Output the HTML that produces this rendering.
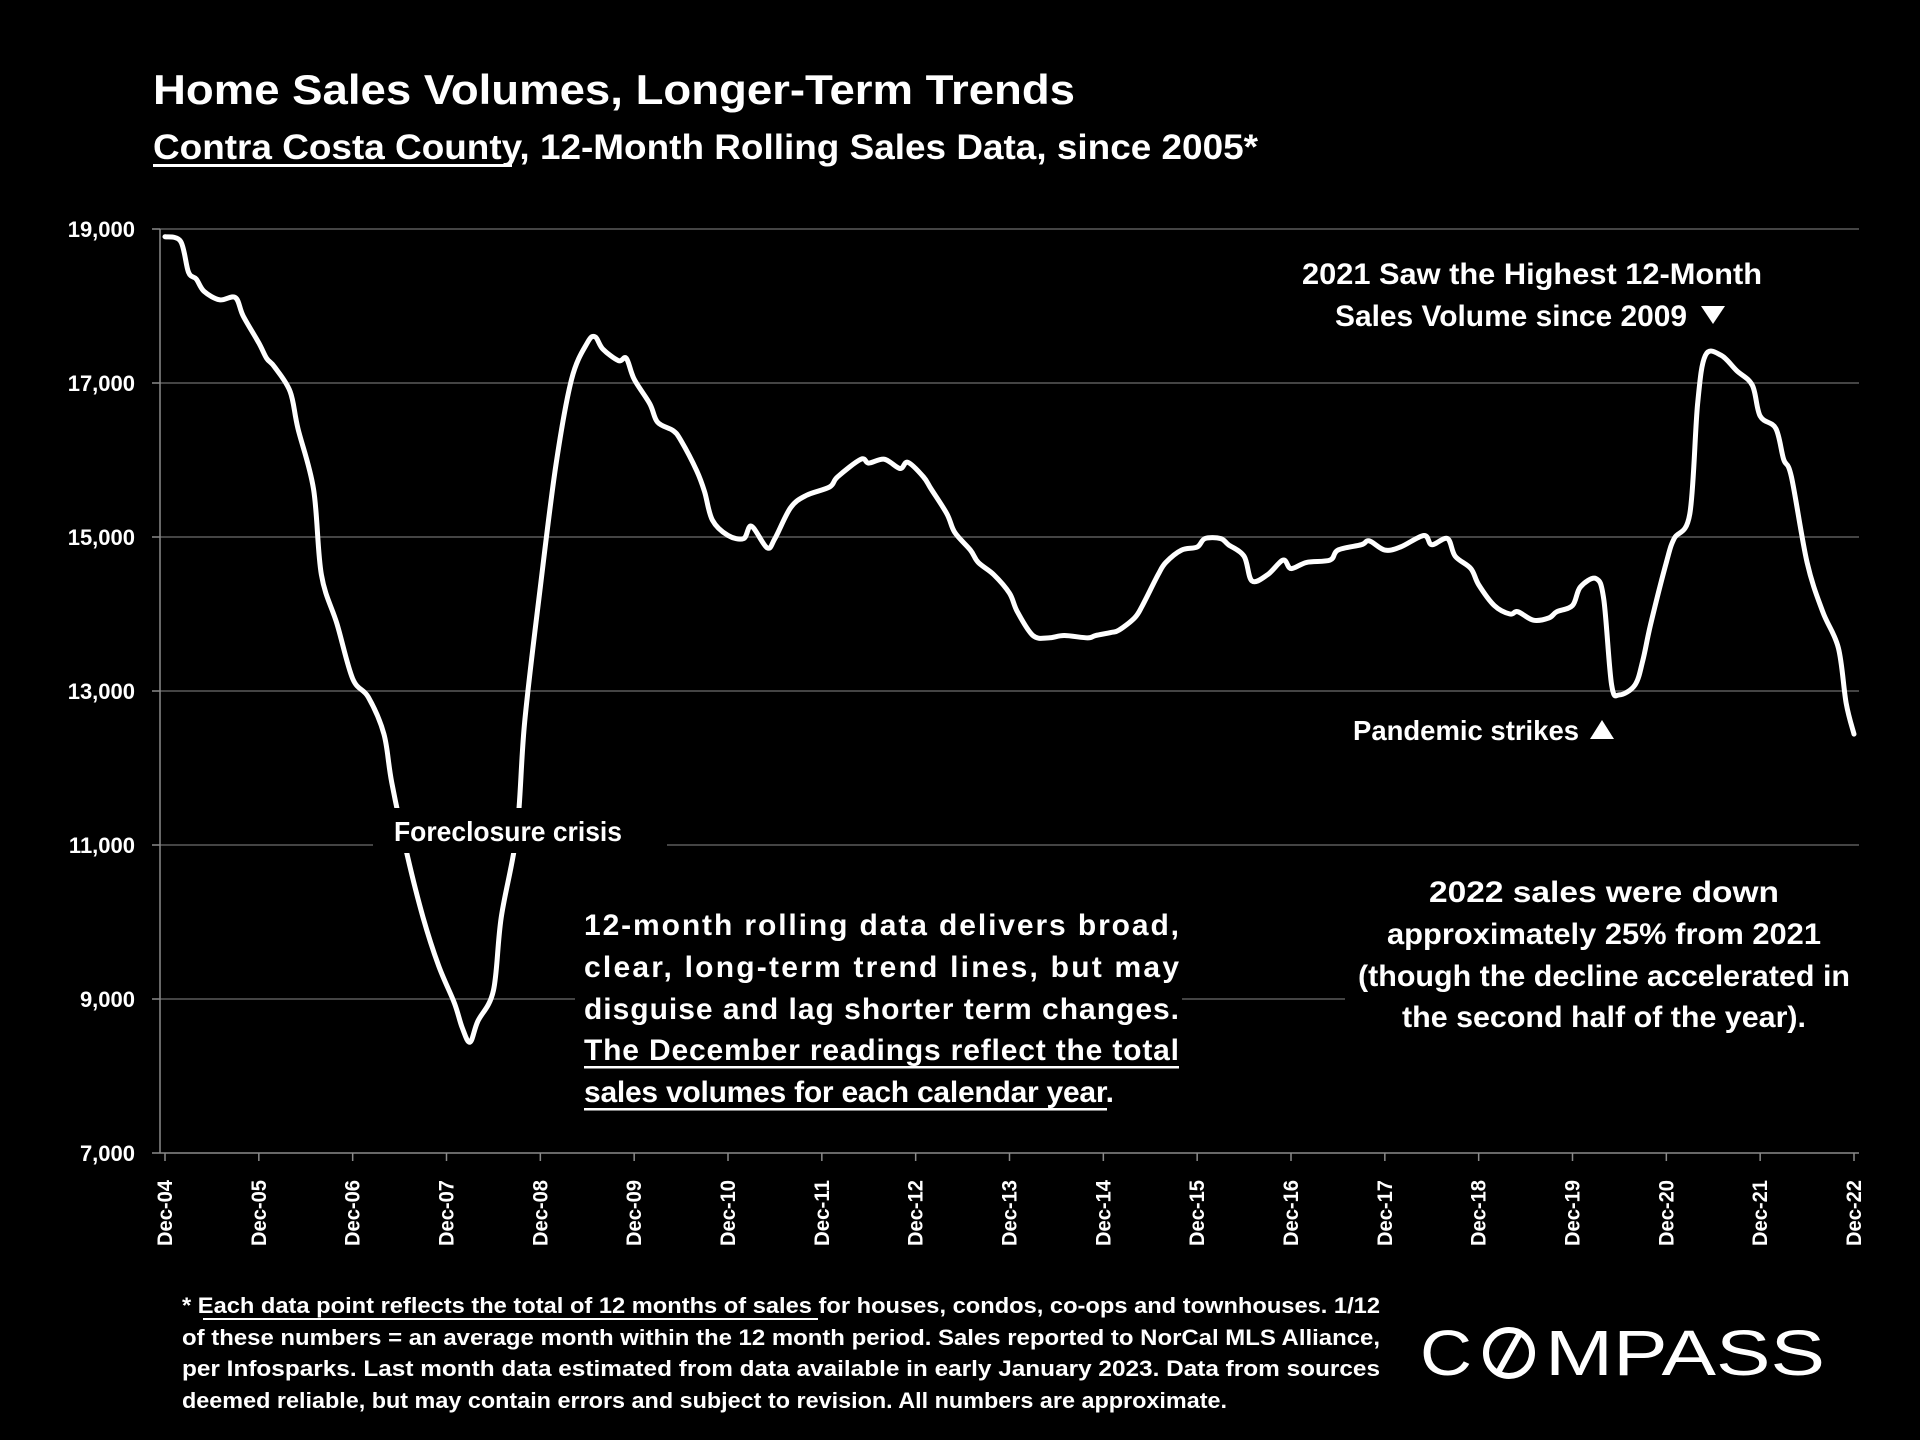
<!DOCTYPE html>
<html><head><meta charset="utf-8"><style>
html,body{margin:0;padding:0;background:#000;}
svg{display:block;}
text{font-family:"Liberation Sans",sans-serif;fill:#fff;}
</style></head><body>
<svg id="chart" width="1920" height="1440" viewBox="0 0 1920 1440">
<rect width="1920" height="1440" fill="#000"/>
<text x="153" y="104" font-size="42" font-weight="bold" textLength="922" lengthAdjust="spacingAndGlyphs">Home Sales Volumes, Longer-Term Trends</text>
<text x="153" y="159" font-size="35" font-weight="bold" textLength="1105" lengthAdjust="spacingAndGlyphs">Contra Costa County, 12-Month Rolling Sales Data, since 2005*</text>
<rect x="153" y="164" width="359" height="3" fill="#fff"/>
<g id="grid"></g>
<g id="yaxis"></g>
<g id="xaxis"></g>
<g id="series"></g>

<rect x="373" y="808" width="294" height="45" fill="#000"/>
<text x="394" y="841" font-size="28" font-weight="bold" textLength="228" lengthAdjust="spacingAndGlyphs">Foreclosure crisis</text>

<rect x="575" y="895" width="607" height="220" fill="#000"/>
<g font-size="30" font-weight="bold">
<text x="584" y="935" textLength="595" lengthAdjust="spacing">12-month rolling data delivers broad,</text>
<text x="584" y="977" textLength="595" lengthAdjust="spacing">clear, long-term trend lines, but may</text>
<text x="584" y="1019" textLength="595" lengthAdjust="spacing">disguise and lag shorter term changes.</text>
<text x="584" y="1060" textLength="595" lengthAdjust="spacing">The December readings reflect the total</text>
<text x="584" y="1102" textLength="530" lengthAdjust="spacing">sales volumes for each calendar year.</text>
<rect x="584" y="1066" width="595" height="2.5" fill="#fff"/>
<rect x="584" y="1108" width="523" height="2.5" fill="#fff"/>
</g>

<rect x="1345" y="862" width="514" height="180" fill="#000"/>
<g font-size="30" font-weight="bold" text-anchor="middle">
<text x="1604" y="902" textLength="350" lengthAdjust="spacingAndGlyphs">2022 sales were down</text>
<text x="1604" y="944" textLength="434" lengthAdjust="spacingAndGlyphs">approximately 25% from 2021</text>
<text x="1604" y="986" textLength="492" lengthAdjust="spacingAndGlyphs">(though the decline accelerated in</text>
<text x="1604" y="1027" textLength="404" lengthAdjust="spacingAndGlyphs">the second half of the year).</text>
</g>

<g font-size="30" font-weight="bold">
<text x="1302" y="284" textLength="460" lengthAdjust="spacingAndGlyphs">2021 Saw the Highest 12-Month</text>
<text x="1335" y="326" textLength="352" lengthAdjust="spacingAndGlyphs">Sales Volume since 2009</text>
<polygon points="1701,306 1725,306 1713,324" fill="#fff"/>
</g>
<g font-size="28" font-weight="bold">
<text x="1353" y="740" textLength="226" lengthAdjust="spacingAndGlyphs">Pandemic strikes</text>
<polygon points="1590,739 1614,739 1602,720" fill="#fff"/>
</g>

<g font-size="22" font-weight="bold">
<text x="182" y="1313" textLength="1198" lengthAdjust="spacingAndGlyphs">* Each data point reflects the total of 12 months of sales for houses, condos, co-ops and townhouses. 1/12</text>
<rect x="203" y="1318" width="615" height="2" fill="#fff"/>
<text x="182" y="1345" textLength="1198" lengthAdjust="spacingAndGlyphs">of these numbers = an average month within the 12 month period. Sales reported to NorCal MLS Alliance,</text>
<text x="182" y="1376" textLength="1198" lengthAdjust="spacingAndGlyphs">per Infosparks. Last month data estimated from data available in early January 2023. Data from sources</text>
<text x="182" y="1408" textLength="1045" lengthAdjust="spacingAndGlyphs">deemed reliable, but may contain errors and subject to revision. All numbers are approximate.</text>
</g>

<g>
<text x="1420" y="1375" font-size="64" textLength="52" lengthAdjust="spacingAndGlyphs">C</text>
<circle cx="1509" cy="1353" r="23" fill="none" stroke="#fff" stroke-width="6"/>
<line x1="1499" y1="1371" x2="1519" y2="1335" stroke="#fff" stroke-width="6"/>
<text x="1545" y="1375" font-size="64" textLength="280" lengthAdjust="spacingAndGlyphs">MPASS</text>
</g>
</svg>
<script>
const months = [0,2,3,4,5,7,9,10,12,13,14,16,17,19,20,22,24,26,28,29,31,33,35,37,38,39,40,42,43,45,46,48,50,52,54,55,56,58,59,60,62,63,65,66,68,69,70,72,74,75,77,78,80,82,85,86,89,90,92,94,95,97,98,100,101,103,104,106,108,109,111,113,115,118,119,121,122,124,125,127,128,130,132,133,135,136,138,139,141,143,144,146,149,150,153,154,156,158,161,162,164,165,167,168,170,172,173,175,177,178,180,181,183,184,185,186,188,189,190,192,193,195,196,197,199,201,203,204,206,207,208,210,212,214,215,216];
const sales = [18900,18840,18440,18350,18190,18080,18110,17870,17520,17320,17210,16890,16410,15620,14510,13870,13160,12920,12440,11810,10860,10060,9430,8950,8630,8440,8710,9110,10060,11170,12600,14350,15940,17050,17520,17600,17440,17290,17320,17050,16730,16490,16380,16250,15860,15590,15220,15020,14980,15140,14860,14980,15380,15540,15650,15780,16010,15960,16010,15890,15970,15780,15620,15300,15060,14830,14670,14510,14270,14030,13720,13690,13720,13690,13720,13760,13790,13950,14110,14510,14670,14830,14870,14980,14980,14900,14750,14430,14510,14700,14590,14670,14700,14830,14900,14950,14830,14870,15020,14900,14980,14750,14590,14380,14110,14000,14030,13920,13950,14030,14110,14350,14460,14190,13080,12950,13080,13400,13870,14670,14980,15300,16730,17360,17360,17160,16970,16570,16410,16010,15780,14670,14030,13560,12840,12440];
const yTicks = [7000,9000,11000,13000,15000,17000,19000];
const yTickLabels = ["7,000","9,000","11,000","13,000","15,000","17,000","19,000"];
const xTickMonths = [0,12,24,36,48,60,72,84,96,108,120,132,144,156,168,180,192,204,216];
const xTickLabels = ["Dec-04","Dec-05","Dec-06","Dec-07","Dec-08","Dec-09","Dec-10","Dec-11","Dec-12","Dec-13","Dec-14","Dec-15","Dec-16","Dec-17","Dec-18","Dec-19","Dec-20","Dec-21","Dec-22"];

const NS = "http://www.w3.org/2000/svg";
const X0 = 165, X1 = 1854, AX = 160, RIGHT = 1859, YTOP = 229, YBOT = 1153;
function xs(m){ return X0 + (X1 - X0) * m / 216; }
function ys(v){ return YBOT - (YBOT - YTOP) * (v - 7000) / 12000; }
function mk(tag, attrs, parent){ const e = document.createElementNS(NS, tag); for (const k in attrs) e.setAttribute(k, attrs[k]); parent.appendChild(e); return e; }

const grid = document.getElementById('grid');
const yaxis = document.getElementById('yaxis');
const xaxis = document.getElementById('xaxis');
const series = document.getElementById('series');

yTicks.forEach((v, i) => {
  const y = ys(v);
  if (i > 0) {
    const g = mk('line', {x1: AX, x2: RIGHT, y1: y, y2: y, stroke: '#5a5a5a', 'stroke-width': 1.5}, grid);
    
    
  }
  mk('line', {x1: AX - 8, x2: AX, y1: y, y2: y, stroke: '#8a8a8a', 'stroke-width': 1.5}, yaxis);
  const t = mk('text', {x: 135, y: y + 8, 'font-size': 22, 'font-weight': 'bold', 'text-anchor': 'end'}, yaxis);
  t.textContent = yTickLabels[i];
  
  
});
mk('line', {x1: AX, x2: AX, y1: YTOP, y2: YBOT, stroke: '#8a8a8a', 'stroke-width': 1.5}, yaxis);
mk('line', {x1: AX, x2: RIGHT, y1: YBOT, y2: YBOT, stroke: '#8a8a8a', 'stroke-width': 1.5}, xaxis);

xTickMonths.forEach((m, i) => {
  const x = xs(m);
  mk('line', {x1: x, x2: x, y1: YBOT, y2: YBOT + 8, stroke: '#8a8a8a', 'stroke-width': 1.5}, xaxis);
  const t = mk('text', {x: 0, y: 0, 'font-size': 21, 'font-weight': 'bold', 'text-anchor': 'end', transform: `translate(${x + 7},1180) rotate(-90)`, textLength: 66, lengthAdjust: 'spacingAndGlyphs'}, xaxis);
  t.textContent = xTickLabels[i];
  
  
});

const pts = months.map((m, i) => [xs(m), ys(sales[i])]);
let d = 'M' + pts[0][0] + ',' + pts[0][1];
for (let i = 1; i < pts.length; i++) {
  const p0 = pts[Math.max(0, i - 2)], p1 = pts[i - 1], p2 = pts[i], p3 = pts[Math.min(pts.length - 1, i + 1)];
  const c1x = p1[0] + (p2[0] - p0[0]) / 6, c1y = p1[1] + (p2[1] - p0[1]) / 6;
  const c2x = p2[0] - (p3[0] - p1[0]) / 6, c2y = p2[1] - (p3[1] - p1[1]) / 6;
  d += ` C${c1x},${c1y} ${c2x},${c2y} ${p2[0]},${p2[1]}`;
}
const line = mk('path', {d: d, fill: 'none', stroke: '#fff', 'stroke-width': 5, 'stroke-linejoin': 'round', 'stroke-linecap': 'round'}, series);


</script>
</body></html>
